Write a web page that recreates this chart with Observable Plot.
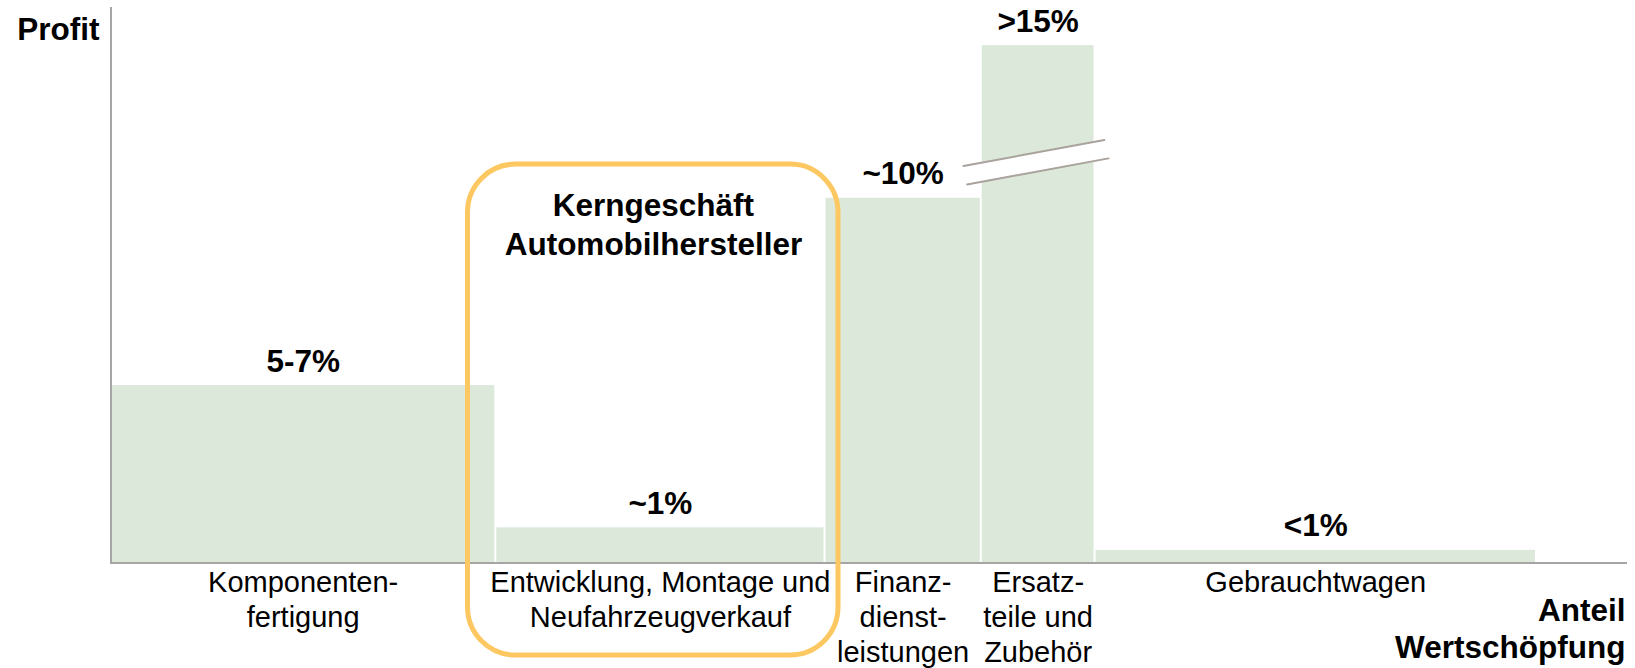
<!DOCTYPE html>
<html>
<head>
<meta charset="utf-8">
<script src="https://cdn.jsdelivr.net/npm/d3@7"></script>
<script src="https://cdn.jsdelivr.net/npm/@observablehq/plot@0.6"></script>
<style>
  html, body { margin: 0; padding: 0; background: #fff; }
  #chart svg { display: block; }
</style>
</head>
<body>
<div id="chart"></div>
<script>
// ---- data ----
const categories = [
  "Komponenten-\nfertigung",
  "Entwicklung, Montage und\nNeufahrzeugverkauf",
  "Finanz-\ndienst-\nleistungen",
  "Ersatz-\nteile und\nZubehör",
  "Gebrauchtwagen"
];
const shares = [25.4, 21.7, 10.3, 7.5, 29.1];        // Anteil Wertschöpfung (bar widths)
const profits = [5.1, 1.0, 10.5, 14.9, 0.35];         // Profit (bar heights, schematic)
const valueLabels = ["5-7%", "~1%", "~10%", ">15%", "<1%"];

const highlightIndex = 1;                              // Kerngeschäft Automobilhersteller
const highlightTop = 11.5;
const highlightTitle = "Kerngeschäft\nAutomobilhersteller";

// axis break on the ">15%" bar (two parallel slanted lines)
const breakLine1 = [{x: 56.23, y: 11.43}, {x: 65.52, y: 12.18}];
const breakLine2 = [{x: 56.47, y: 10.90}, {x: 65.79, y: 11.65}];

const yLabel = "Profit";
const xLabel = "Anteil\nWertschöpfung";

// ---- derived table ----
let acc = 0;
const rows = categories.map((c, i) => {
  const r = {label: c, share: shares[i], profit: profits[i], text: valueLabels[i], x1: acc, x2: acc + shares[i]};
  acc += shares[i];
  r.xm = (r.x1 + r.x2) / 2;
  return r;
});
const hl = rows[highlightIndex];

const interp = (line, x) => line[0].y + (line[1].y - line[0].y) * (x - line[0].x) / (line[1].x - line[0].x);
const bandX = [56.35, 65.7];
const band = bandX.map(x => ({x, lo: interp(breakLine2, x), hi: interp(breakLine1, x)}));

const FONT = "'Liberation Sans', Arial, Helvetica, sans-serif";
const bar = "#dbe8da";
const axisColor = "#a7a5a3";

const chart = Plot.plot({
  width: 1635,
  height: 668,
  marginLeft: 110,
  marginRight: 8,
  marginTop: 7,
  marginBottom: 106,
  style: {fontFamily: FONT, background: "white", color: "black", overflow: "visible"},
  x: {domain: [0, 100], axis: null},
  y: {domain: [0, 16], axis: null},
  marks: [
    // bars
    Plot.rect(rows, {x1: "x1", x2: "x2", y1: 0, y2: "profit", fill: bar, insetLeft: 1, insetRight: 1}),
    // axis break
    Plot.areaY(band, {x: "x", y1: "lo", y2: "hi", fill: "white"}),
    Plot.line(breakLine1, {x: "x", y: "y", stroke: "#a9a29d", strokeWidth: 2}),
    Plot.line(breakLine2, {x: "x", y: "y", stroke: "#a9a29d", strokeWidth: 2}),
    // axes
    Plot.ruleX([0], {y1: 0, y2: 16, stroke: axisColor, strokeWidth: 2, dx: 0.5}),
    Plot.ruleY([0], {x1: 0, x2: 100, stroke: axisColor, strokeWidth: 2, dy: 0.5}),
    // value labels
    Plot.text(rows, {x: "xm", y: "profit", text: "text", lineAnchor: "bottom", dy: -14,
      fontSize: 31.5, fontWeight: "bold", fill: "black"}),
    // category labels
    Plot.text(rows, {x: "xm", y: 0, text: "label", lineAnchor: "top", dy: 5, lineHeight: 1.2,
      fontSize: 29, fill: "black"}),
    // highlight box
    Plot.rect([hl], {x1: "x1", x2: "x2", y1: 0, y2: () => highlightTop,
      insetLeft: -27.8, insetRight: -13.5, insetBottom: -93, insetTop: 1,
      rx: 48, fill: "none", stroke: "#fdc862", strokeWidth: 5}),
    Plot.text([hl], {x: "xm", y: () => highlightTop, text: () => highlightTitle, lineAnchor: "top",
      dy: 24, dx: -7, lineHeight: 1.25, fontSize: 31.5, fontWeight: "bold", fill: "black"}),
    // axis titles
    Plot.text([yLabel], {x: 0, y: 16, text: d => d, textAnchor: "end", lineAnchor: "bottom",
      dx: -11, dy: 32, fontSize: 31.5, fontWeight: "bold", fill: "black"}),
    Plot.text([xLabel], {x: 100, y: 0, text: d => d, textAnchor: "end", lineAnchor: "top",
      dx: -2, dy: 32, lineHeight: 1.18, fontSize: 31.5, fontWeight: "bold", fill: "black"})
  ]
});
document.getElementById("chart").appendChild(chart);
</script>
</body>
</html>
